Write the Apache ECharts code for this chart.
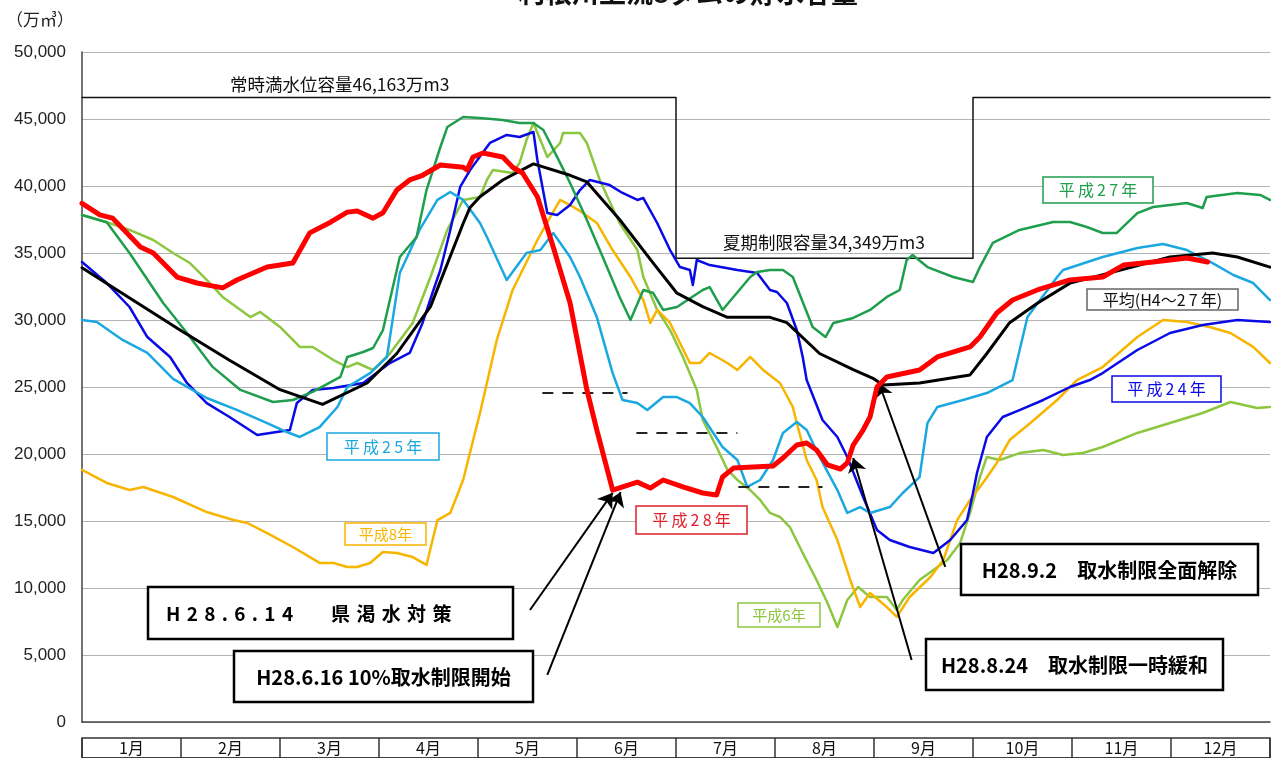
<!DOCTYPE html>
<html><head><meta charset="utf-8">
<script src="https://cdn.jsdelivr.net/npm/echarts@6/dist/echarts.min.js"></script>
<style>html,body{margin:0;padding:0;background:#fff}#c{width:1271px;height:758px}</style>
</head><body><div id="c"></div>
<script>
// x values are in months from Jan 1 (0 = start of January, 12 = end of December)
const months = ['1月','2月','3月','4月','5月','6月','7月','8月','9月','10月','11月','12月'];
const yTicks = [0,5000,10000,15000,20000,25000,30000,35000,40000,45000,50000];

const capacity = [[0,46600],[6,46600],[6,34600],[9,34600],[9,46600],[12,46600]];

const h28 = [[0,38700],[0.18,37840],[0.31,37600],[0.59,35450],[0.72,35000],[0.96,33200],[1.16,32760],[1.42,32400],[1.57,33000],[1.87,33950],[2.13,34250],[2.30,36500],[2.51,37300],[2.68,38050],[2.78,38130],[2.94,37600],[3.04,38000],[3.18,39700],[3.31,40450],[3.44,40800],[3.62,41570],[3.85,41400],[3.89,41200],[3.95,42160],[4.05,42460],[4.25,42160],[4.35,41400],[4.45,40970],[4.60,39200],[4.76,35450],[4.93,31270],[5.10,24780],[5.20,21800],[5.36,17300],[5.61,17900],[5.74,17460],[5.87,18060],[6.07,17540],[6.27,17090],[6.41,16940],[6.47,18280],[6.58,18950],[6.78,19030],[6.98,19100],[7.08,19700],[7.22,20670],[7.32,20820],[7.42,20300],[7.53,19180],[7.66,18880],[7.73,19330],[7.79,20670],[7.89,21790],[7.96,22760],[8.03,25000],[8.13,25750],[8.46,26270],[8.64,27240],[8.97,27990],[9.07,28730],[9.24,30520],[9.40,31490],[9.65,32240],[9.98,32990],[10.31,33210],[10.52,34100],[10.82,34330],[11.16,34630],[11.37,34330]];

const h27 = [[0,37840],[0.25,37300],[0.48,35000],[0.82,31270],[1.06,29030],[1.32,26500],[1.60,24780],[1.93,23880],[2.13,24030],[2.33,24630],[2.61,25750],[2.68,27240],[2.84,27610],[2.94,27910],[3.04,29250],[3.21,34700],[3.38,36190],[3.48,39700],[3.62,42910],[3.69,44400],[3.85,45150],[4.02,45070],[4.25,44920],[4.42,44700],[4.56,44700],[4.66,44180],[4.80,42160],[4.93,40220],[5.10,37460],[5.26,34700],[5.43,31720],[5.54,30000],[5.67,32240],[5.77,32010],[5.87,30750],[6.01,30970],[6.27,32240],[6.34,32460],[6.47,30750],[6.58,31720],[6.75,33210],[6.82,33580],[6.95,33730],[7.08,33730],[7.18,33210],[7.38,29480],[7.51,28730],[7.59,29780],[7.79,30150],[7.96,30750],[8.13,31720],[8.26,32240],[8.33,34480],[8.39,34850],[8.54,33950],[8.80,33210],[9.00,32840],[9.07,33950],[9.20,35750],[9.47,36720],[9.81,37310],[9.98,37310],[10.15,36940],[10.31,36490],[10.45,36490],[10.66,37980],[10.82,38430],[11.16,38730],[11.32,38360],[11.36,39180],[11.67,39480],[11.90,39330],[12,38960]];

const h25 = [[0,30000],[0.15,29850],[0.41,28510],[0.66,27540],[0.92,25600],[1.26,24180],[1.57,23280],[1.87,22310],[2.07,21640],[2.20,21270],[2.40,22010],[2.58,23510],[2.68,25000],[2.91,26040],[3.08,27240],[3.21,33500],[3.41,36720],[3.59,38960],[3.72,39550],[3.85,38960],[4.02,37240],[4.09,36190],[4.29,32990],[4.49,35000],[4.63,35220],[4.76,36490],[4.93,34700],[5.03,33210],[5.20,30220],[5.36,26040],[5.46,24030],[5.61,23800],[5.71,23280],[5.87,24250],[6.01,24250],[6.14,23800],[6.27,22760],[6.47,20520],[6.62,19550],[6.72,17540],[6.85,18060],[6.98,19550],[7.08,21570],[7.22,22390],[7.32,21790],[7.45,19780],[7.63,17310],[7.73,15600],[7.86,16040],[7.96,15600],[8.16,16040],[8.29,17090],[8.46,18280],[8.54,22310],[8.64,23510],[8.90,24030],[9.14,24550],[9.40,25520],[9.55,30220],[9.85,33210],[9.91,33730],[10.31,34700],[10.66,35370],[10.92,35670],[11.16,35220],[11.42,34250],[11.63,33360],[11.83,32760],[12,31490]];

const h24 = [[0,34330],[0.25,32760],[0.48,30970],[0.66,28730],[0.89,27240],[1.06,25300],[1.26,23800],[1.49,22760],[1.77,21420],[1.90,21570],[2.10,21790],[2.17,23800],[2.33,24780],[2.54,24930],[2.84,25300],[3.11,26790],[3.31,27540],[3.44,29780],[3.55,32240],[3.62,33730],[3.72,36720],[3.82,39930],[3.92,41190],[4.12,43210],[4.29,43810],[4.42,43660],[4.56,44030],[4.60,41940],[4.70,37990],[4.80,37840],[4.93,38580],[5.03,39700],[5.13,40450],[5.33,40070],[5.46,39480],[5.61,38960],[5.67,39100],[5.81,37240],[5.94,35220],[6.04,33950],[6.14,33730],[6.17,32610],[6.21,34480],[6.34,34100],[6.62,33730],[6.82,33510],[6.95,32240],[7.02,32090],[7.12,31270],[7.22,29250],[7.28,27240],[7.32,25520],[7.48,22540],[7.63,21270],[7.73,19780],[7.89,16790],[8.03,14330],[8.16,13580],[8.36,13060],[8.60,12610],[8.77,13580],[8.94,15070],[9.00,17090],[9.04,18580],[9.14,21270],[9.30,22760],[9.47,23280],[9.71,24030],[9.98,25000],[10.18,25520],[10.31,26040],[10.66,27760],[10.99,29030],[11.32,29630],[11.67,30000],[12,29850]];

const h8 = [[0,18810],[0.25,17840],[0.48,17310],[0.62,17540],[0.92,16790],[1.26,15670],[1.53,15070],[1.67,14850],[1.87,14100],[2.13,13060],[2.40,11870],[2.54,11870],[2.68,11570],[2.78,11570],[2.91,11870],[3.04,12690],[3.18,12610],[3.34,12310],[3.48,11720],[3.59,15070],[3.72,15600],[3.85,18060],[4.02,23060],[4.19,28510],[4.35,32240],[4.60,35970],[4.73,37690],[4.83,38960],[4.93,38580],[5.06,37990],[5.20,37240],[5.36,35220],[5.54,33210],[5.67,31490],[5.74,29780],[5.81,30750],[5.94,29780],[6.14,26790],[6.24,26790],[6.34,27540],[6.52,26790],[6.62,26270],[6.75,27240],[6.88,26270],[7.05,25300],[7.18,23510],[7.22,22310],[7.32,19550],[7.42,18060],[7.48,16040],[7.63,13580],[7.76,10600],[7.86,8580],[7.96,9630],[8.13,8580],[8.23,7840],[8.36,9330],[8.57,10820],[8.70,12090],[8.84,15070],[8.97,16570],[9.10,17840],[9.24,19330],[9.37,21040],[9.58,22310],[9.85,24030],[10.05,25520],[10.31,26490],[10.66,28730],[10.92,30000],[11.16,29850],[11.39,29480],[11.60,29030],[11.83,27990],[12,26790]];

const h6 = [[0,37840],[0.25,37300],[0.48,36720],[0.72,35970],[0.92,35000],[1.09,34250],[1.26,33000],[1.42,31720],[1.70,30220],[1.80,30600],[2.00,29480],[2.20,27990],[2.33,27990],[2.54,27010],[2.68,26490],[2.78,26790],[2.94,26270],[3.11,27500],[3.34,29780],[3.52,33210],[3.69,36720],[3.85,38960],[4.02,39180],[4.09,40450],[4.15,41190],[4.35,40970],[4.42,41720],[4.49,43430],[4.56,44700],[4.70,42160],[4.83,43210],[4.86,43960],[5.03,43960],[5.10,43210],[5.23,40450],[5.43,37240],[5.61,35220],[5.67,33210],[5.81,30750],[5.94,29250],[6.07,27240],[6.21,24780],[6.27,22540],[6.41,20520],[6.52,18810],[6.62,18060],[6.75,17310],[6.85,16570],[6.95,15600],[7.05,15300],[7.15,14550],[7.28,12610],[7.42,10600],[7.53,8880],[7.63,7090],[7.73,9100],[7.84,10070],[7.96,9330],[8.13,9330],[8.23,8360],[8.29,9100],[8.46,10600],[8.74,12090],[8.87,13360],[8.97,15600],[9.07,18280],[9.14,19780],[9.27,19550],[9.47,20070],[9.71,20300],[9.91,19930],[10.11,20070],[10.31,20520],[10.66,21570],[10.99,22310],[11.32,23060],[11.60,23880],[11.87,23430],[12,23510]];

const avg = [[0,33900],[0.99,29250],[1.49,27000],[2.00,24800],[2.43,23700],[2.88,25300],[3.18,27500],[3.52,31000],[3.85,37200],[3.92,38400],[4.02,39200],[4.25,40450],[4.56,41650],[4.93,40800],[5.10,40300],[5.43,37500],[5.77,34250],[6.01,32000],[6.27,31000],[6.52,30200],[6.95,30200],[7.12,29800],[7.45,27500],[7.79,26300],[7.99,25650],[8.09,25150],[8.46,25300],[8.97,25900],[9.14,27500],[9.37,29800],[9.65,31250],[9.98,32750],[10.48,33700],[10.99,34700],[11.42,35000],[11.67,34700],[12,33950]];

// dashed reference levels: [startMonth, endMonth, value]
const dashLevels = [[4.65,5.51,24550],[5.60,6.62,21570],[6.63,7.48,17540]];

// arrows: [tail, head] in data coordinates
const arrows = [
  [[4.525,8360],[5.36,17100]],
  [[4.70,3510],[5.44,17160]],
  [[8.38,4630],[7.79,19700]],
  [[8.72,11570],[8.05,25300]]
];

const chart = echarts.init(document.getElementById('c'), null, {renderer:'canvas'});
const JP = '"Noto Sans CJK JP", "Noto Sans", sans-serif';

function line(name, data, color, width, z){
  return {name, type:'line', data, xAxisIndex:0, yAxisIndex:0, showSymbol:false, symbol:'none',
    lineStyle:{color, width, join:'round', cap:'round'}, z, silent:true};
}

const series = [
  line('常時満水位容量', capacity, '#111', 1.5, 2),
  line('平成6年', h6, '#8dc63f', 2.5, 3),
  line('平成8年', h8, '#f7b500', 2.5, 3),
  line('平成24年', h24, '#0a0ae6', 2.5, 4),
  line('平成25年', h25, '#1ba8e0', 2.5, 4),
  line('平成27年', h27, '#1f9e4d', 2.5, 4),
  line('平均(H4～27年)', avg, '#000', 3, 5),
];
dashLevels.forEach((d,i)=>{
  series.push({type:'line', name:'dash'+i, data:[[d[0],d[2]],[d[1],d[2]]], showSymbol:false, symbol:'none', silent:true,
    lineStyle:{color:'#222', width:2, type:[11,9]}, z:5});
});
const red = line('平成28年', h28, '#ff0000', 5, 8);
red.markLine = {silent:true, symbol:['none','arrow'], symbolSize:[14,14], animation:false,
  lineStyle:{color:'#000', width:2, type:'solid'}, label:{show:false},
  data: arrows.map(a=>[{coord:a[0]},{coord:a[1]}])};
series.push(red);

function tag(x,y,w,h,text,color,border,font){
  return [
    {type:'rect', shape:{x,y,width:w,height:h}, style:{fill:'#fff', stroke:border, lineWidth:1.5}, z:50},
    {type:'text', x:x+w/2, y:y+h/2, style:{text, fill:color, font, align:'center', verticalAlign:'middle', textAlign:'center', textVerticalAlign:'middle'}, z:51}
  ];
}
function note(x,y,w,h,text,font,leftPad){
  const tx = leftPad != null ? x+leftPad : x+w/2;
  const al = leftPad != null ? 'left' : 'center';
  return [
    {type:'rect', shape:{x,y,width:w,height:h}, style:{fill:'#fff', stroke:'#000', lineWidth:2.5}, z:60},
    {type:'text', x:tx, y:y+h/2+1, style:{text, fill:'#000', font, align:al, verticalAlign:'middle', textAlign:al, textVerticalAlign:'middle'}, z:61}
  ];
}
const T = '\u2009';
const lf = '16px ' + JP;
const sf = '15px ' + JP;
const nf = 'bold 19px ' + JP;
const graphics = [].concat(
  [{type:'text', x:688, y:6, style:{text:'利根川上流8ダムの貯水容量', fill:'#111', font:'bold 27px '+JP, align:'center', verticalAlign:'bottom', textAlign:'center', textVerticalAlign:'bottom'}, z:70},
   {type:'text', x:6, y:20, style:{text:'（万㎥）', fill:'#222', font:'17px '+JP, align:'left', verticalAlign:'middle', textAlign:'left', textVerticalAlign:'middle'}, z:70},
   {type:'text', x:230, y:84, style:{text:'常時満水位容量46,163万m3', fill:'#111', font:'17.5px '+JP, align:'left', verticalAlign:'middle', textAlign:'left', textVerticalAlign:'middle'}, z:70},
   {type:'text', x:723, y:242, style:{text:'夏期制限容量34,349万m3', fill:'#111', font:'17.5px '+JP, align:'left', verticalAlign:'middle', textAlign:'left', textVerticalAlign:'middle'}, z:70}],
  tag(1043,177,110,26,['平','成','2','7','年'].join(T),'#1f9e4d','#1f9e4d',lf),
  tag(1087,289,151,21,'平均(H4～2'+T+'7'+T+'年)','#111','#666',lf),
  tag(1112,376,109,26,['平','成','2','4','年'].join(T),'#0a0ae6','#0a0ae6',lf),
  tag(327,433,112,27,['平','成','2','5','年'].join(T),'#1ba8e0','#1ba8e0',lf),
  tag(345,523,81,22,'平成8年','#f7b500','#f7b500',sf),
  tag(636,506,111,28,['平','成','2','8','年'].join(T),'#e0202a','#e0202a',lf),
  tag(738,603,82,24,'平成6年','#8dc63f','#8dc63f',sf),
  note(148,587,365,52,['H','2','8','.','6','.','1','4'].join('\u2004')+'\u3000\u3000'+['県','渇','水','対','策'].join('\u2004'), nf, 18),
  note(234,651,299,51,'H28.6.16 10%取水制限開始', 'bold 20px '+JP),
  note(961,544,297,51,'H28.9.2　取水制限全面解除', 'bold 20px '+JP),
  note(926,639,297,51,'H28.8.24　取水制限一時緩和', 'bold 20px '+JP)
);

chart.setOption({
  animation:false,
  backgroundColor:'#fff',
  grid:[
    {left:82, right:1, top:52, bottom:36},
    {left:82, right:1, top:738, height:40, show:true, borderColor:'#333', borderWidth:1.5, backgroundColor:'transparent'}
  ],
  xAxis:[
    {type:'value', gridIndex:0, min:0, max:12, interval:1,
      axisLine:{show:true, lineStyle:{color:'#444', width:1.5}}, axisTick:{show:false}, axisLabel:{show:false}, splitLine:{show:false}},
    {type:'category', gridIndex:1, data:months, position:'top', boundaryGap:true,
      axisLine:{show:true, lineStyle:{color:'#333', width:1.5}}, axisTick:{show:false},
      axisLabel:{inside:true, margin:2, fontSize:16, color:'#111', fontFamily:JP},
      splitLine:{show:true, interval:0, lineStyle:{color:'#333', width:1.5}}}
  ],
  yAxis:[
    {type:'value', gridIndex:0, min:yTicks[0], max:yTicks[yTicks.length-1], interval:5000,
      axisLine:{show:true, lineStyle:{color:'#444', width:1.5}}, axisTick:{show:false},
      axisLabel:{margin:16, fontSize:17, color:'#222', fontFamily:'"Liberation Sans", Arial, sans-serif',
        formatter:v=>v.toLocaleString('en-US')},
      splitLine:{show:true, lineStyle:{color:'#b4b4b4', width:1.2}}},
    {type:'value', gridIndex:1, show:false}
  ],
  series,
  graphic: graphics
});
</script></body></html>
